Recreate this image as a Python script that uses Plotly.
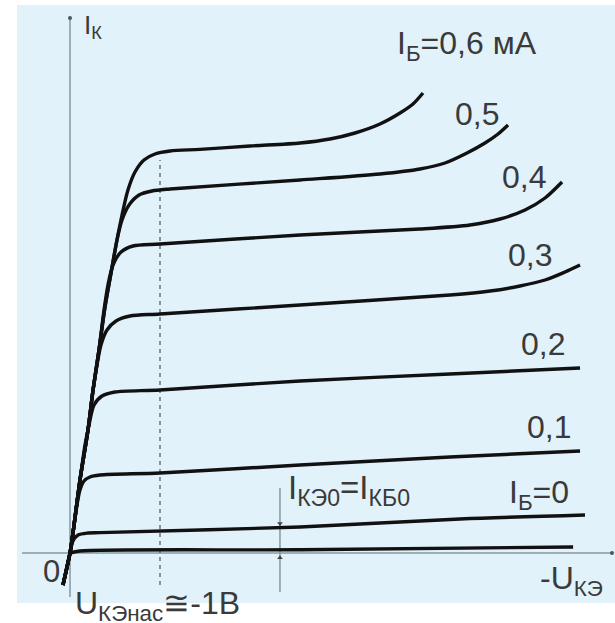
import plotly.graph_objects as go

# -U_KE (V) and I_K (mA, arbitrary scale)
# shared steep "saturation" segment
steep_x = [-0.078, 0.0, 0.033, 0.111, 0.2, 0.256, 0.322, 0.389, 0.456, 0.522]
steep_y = [-0.8, 0.0, 0.5, 1.825, 3.075, 4.075, 5.075, 6.15, 7.0, 7.825]

ib_labels = ["0", "0,1", "0,2", "0,3", "0,4", "0,5", "0,6"]

# bottom curve (just above the axis)
base_x = [0.0, 0.11, 2.56, 5.59]
base_y = [0.0, 0.05, 0.08, 0.15]

ib0_x = [-0.078, 0.0, 0.033, 0.089, 0.2, 0.333, 2.556, 4.333, 5.722]
ib0_y = [-0.8, 0.0, 0.3, 0.45, 0.5, 0.51, 0.65, 0.85, 0.95]

ib01_x = [-0.078, 0.0, 0.033, 0.078, 0.111, 0.156, 0.222, 0.333, 1.0, 2.556, 4.222, 5.667]
ib01_y = [-0.8, 0.0, 0.5, 1.2, 1.575, 1.8, 1.9, 1.95, 2.0, 2.2, 2.4, 2.55]

ib02_x = [-0.078, 0.0, 0.033, 0.111, 0.167, 0.211, 0.267, 0.356, 0.5, 1.0, 2.556, 4.222, 5.667]
ib02_y = [-0.8, 0.0, 0.5, 1.825, 2.7, 3.2, 3.7, 3.925, 4.025, 4.075, 4.3, 4.475, 4.625]

ib03_x = [-0.078, 0.0, 0.033, 0.111, 0.2, 0.256, 0.3, 0.344, 0.411, 0.511, 0.667, 1.0,
          2.556, 4.222, 4.667, 5.0, 5.278, 5.5, 5.667]
ib03_y = [-0.8, 0.0, 0.5, 1.825, 3.075, 4.075, 4.7, 5.2, 5.575, 5.8, 5.925, 5.975,
          6.2, 6.45, 6.55, 6.675, 6.825, 7.025, 7.2]

ib04_x = [-0.078, 0.0, 0.033, 0.111, 0.2, 0.256, 0.322, 0.378, 0.422, 0.478, 0.567, 0.7,
          1.0, 2.556, 3.889, 4.444, 4.778, 5.056, 5.278, 5.467]
ib04_y = [-0.8, 0.0, 0.5, 1.825, 3.075, 4.075, 5.075, 6.075, 6.7, 7.2, 7.525, 7.675,
          7.725, 7.95, 8.1, 8.2, 8.35, 8.575, 8.875, 9.275]

ib05_x = steep_x + [0.578, 0.656, 0.767, 0.911, 1.111, 2.556, 3.444, 3.889, 4.167,
                    4.411, 4.611, 4.756, 4.867]
ib05_y = steep_y + [8.325, 8.7, 8.95, 9.05, 9.1, 9.325, 9.475, 9.6, 9.75,
                    10.0, 10.25, 10.475, 10.7]

ib06_x = steep_x + [0.578, 0.644, 0.722, 0.822, 0.944, 1.111, 1.444, 2.0, 2.556, 2.889,
                    3.167, 3.444, 3.667, 3.811, 3.922]
ib06_y = steep_y + [8.45, 9.075, 9.525, 9.825, 9.975, 10.05, 10.09, 10.175, 10.25, 10.35,
                    10.5, 10.725, 11.0, 11.225, 11.5]

curves = [(base_x, base_y), (ib0_x, ib0_y), (ib01_x, ib01_y), (ib02_x, ib02_y),
          (ib03_x, ib03_y), (ib04_x, ib04_y), (ib05_x, ib05_y), (ib06_x, ib06_y)]

U_sat = 1.0          # dashed line position, V
U_marker = 2.333     # I_KE0 marker position, V

fig = go.Figure()

AXC = "#8797a0"
# axes
fig.add_trace(go.Scatter(x=[-0.533, 6.022], y=[0, 0], mode="lines",
                         line=dict(color=AXC, width=1.5), hoverinfo="skip"))
fig.add_trace(go.Scatter(x=[0, 0], y=[-1.1, 13.375], mode="lines",
                         line=dict(color=AXC, width=1.5), hoverinfo="skip"))
fig.add_trace(go.Scatter(x=[6.022, 0], y=[0, 13.375], mode="markers",
                         marker=dict(color="#555", size=4), hoverinfo="skip"))
# dashed saturation line
fig.add_trace(go.Scatter(x=[U_sat, U_sat], y=[-0.8, 9.825], mode="lines",
                         line=dict(color="#555", width=1.2, dash="4px,4px"), hoverinfo="skip"))
# I_KE0 marker line
fig.add_trace(go.Scatter(x=[U_marker, U_marker], y=[-0.975, 1.625], mode="lines",
                         line=dict(color=AXC, width=1.5), hoverinfo="skip"))
fig.add_trace(go.Scatter(x=[U_marker, U_marker], y=[0.74, -0.12], mode="markers",
                         marker=dict(color="#444", size=5, symbol=["triangle-down", "triangle-up"]),
                         hoverinfo="skip"))

for cx, cy in curves:
    fig.add_trace(go.Scatter(x=cx, y=cy, mode="lines",
                             line=dict(color="#111111", width=3.4, shape="spline", smoothing=0.8),
                             hoverinfo="skip"))

TXT = "#3a3a3a"
FONT = "Liberation Sans, Arial, sans-serif"
ann = [
    ("I<sub>К</sub>", 0.133, 13.16, 26),
    ("I<sub>Б</sub>=0,6 мА", 3.611, 12.68, 32),
    ("0,5", 4.25, 10.975, 32),
    ("0,4", 4.78, 9.39, 32),
    ("0,3", 4.84, 7.45, 32),
    ("0,2", 4.99, 5.22, 32),
    ("0,1", 5.05, 3.16, 32),
    ("I<sub>Б</sub>=0", 4.85, 1.47, 32),
    ("I<sub>КЭ0</sub>=I<sub>КБ0</sub>", 2.40, 1.58, 33),
    ("-U<sub>КЭ</sub>", 5.20, -0.69, 32),
    ("0", -0.325, -0.47, 31),
]
for t, x, y, s in ann:
    fig.add_annotation(x=x, y=y, text=t, showarrow=False, xanchor="left", yanchor="middle",
                       font=dict(family=FONT, size=s, color=TXT))

# label below the plot area (paper coordinates)
fig.add_annotation(x=0.094, y=-0.004, xref="paper", yref="paper",
                   text="U<sub>КЭнас</sub>≅-1В", showarrow=False,
                   xanchor="left", yanchor="middle",
                   font=dict(family=FONT, size=32, color=TXT))

fig.update_layout(
    width=615, height=623,
    margin=dict(l=17, r=0, t=5, b=20),
    paper_bgcolor="white", plot_bgcolor="#e1f2fa",
    showlegend=False,
    xaxis=dict(range=[-0.5889, 6.0556], visible=False, fixedrange=True),
    yaxis=dict(range=[-1.25, 13.7], visible=False, fixedrange=True),
)

fig.write_html("out.html", config={"displayModeBar": False},
               post_script="document.body.style.margin='0px';")
